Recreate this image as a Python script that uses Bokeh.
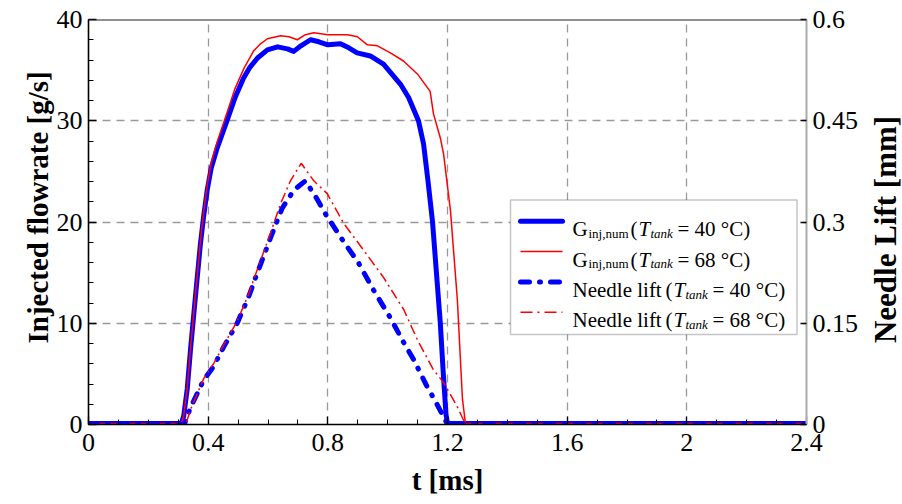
import math
from bokeh.plotting import figure
from bokeh.models import Range1d, LinearAxis, FixedTicker, Label, BoxAnnotation, Arrow, Span, Title
from bokeh.embed import file_html
from bokeh.resources import INLINE

# ---------------- data ----------------
# injected flowrate, T_tank = 40 C  [g/s]
t_g40 = [0.0, 0.31, 0.318, 0.33, 0.341, 0.357, 0.374, 0.385, 0.397, 0.41, 0.43, 0.463, 0.49,
         0.518, 0.54, 0.565, 0.598, 0.632, 0.665, 0.686, 0.71, 0.742, 0.77, 0.8, 0.842, 0.87,
         0.898, 0.942, 0.986, 1.043, 1.07, 1.103, 1.12, 1.135, 1.15, 1.163, 1.176, 1.186,
         1.195, 1.2, 2.4]
g40 = [0.1, 0.1, 0.8, 3.5, 7.4, 12.5, 17.8, 20.6, 23.2, 25.3, 27.3, 30.0, 32.3,
       34.2, 35.3, 36.2, 37.0, 37.3, 37.1, 36.85, 37.4, 38.0, 37.8, 37.5, 37.6, 37.2,
       36.7, 36.4, 35.6, 33.6, 32.3, 30.0, 27.7, 24.0, 20.0, 15.0, 10.0, 5.0,
       1.0, 0.1, 0.1]

# injected flowrate, T_tank = 68 C  [g/s]
t_g68 = [0.0, 0.31, 0.318, 0.33, 0.341, 0.357, 0.374, 0.385, 0.397, 0.41, 0.43, 0.463, 0.49,
         0.52, 0.552, 0.575, 0.598, 0.642, 0.67, 0.698, 0.725, 0.753, 0.8, 0.866, 0.899,
         0.932, 0.966, 1.009, 1.053, 1.1, 1.142, 1.153, 1.176, 1.187, 1.21, 1.233, 1.25,
         1.26, 2.4]
g68 = [0.1, 0.1, 0.8, 3.6, 7.5, 12.7, 18.1, 21.0, 23.7, 25.8, 27.9, 30.8, 33.2,
       35.2, 36.9, 37.6, 38.1, 38.4, 38.3, 38.0, 38.5, 38.7, 38.5, 38.5, 38.3,
       37.5, 37.4, 36.7, 35.9, 34.6, 32.9, 30.7, 28.3, 26.7, 21.1, 12.3, 2.5,
       0.1, 0.1]

# needle lift, T_tank = 40 C  [mm]
t_l40 = [0.0, 0.32, 0.341, 0.385, 0.418, 0.452, 0.497, 0.535, 0.558, 0.608, 0.647, 0.686,
         0.725, 0.764, 0.792, 0.842, 0.903, 0.953, 1.009, 1.054, 1.087, 1.132, 1.16, 1.2, 2.4]
l40 = [0.0, 0.0, 0.025, 0.066, 0.086, 0.115, 0.15, 0.189, 0.217, 0.276, 0.32, 0.347,
       0.361, 0.334, 0.312, 0.278, 0.239, 0.199, 0.158, 0.121, 0.096, 0.056, 0.034, 0.0, 0.0]

# needle lift, T_tank = 68 C  [mm]
t_l68 = [0.0, 0.325, 0.341, 0.385, 0.418, 0.452, 0.497, 0.535, 0.558, 0.608, 0.642, 0.675,
         0.711, 0.753, 0.798, 0.853, 0.92, 0.986, 1.054, 1.1, 1.153, 1.187, 1.232, 1.253, 1.265, 2.4]
l68 = [0.0, 0.0, 0.022, 0.068, 0.09, 0.118, 0.153, 0.193, 0.222, 0.283, 0.327, 0.361,
       0.387, 0.361, 0.342, 0.298, 0.258, 0.218, 0.17, 0.125, 0.081, 0.062, 0.027, 0.007, 0.0, 0.0]

x_ticks = [0, 0.4, 0.8, 1.2, 1.6, 2.0, 2.4]
x_tick_labels = ["0", "0.4", "0.8", "1.2", "1.6", "2", "2.4"]
y_ticks = [0, 10, 20, 30, 40]
y_tick_labels = ["0", "10", "20", "30", "40"]
y2_ticks = [0, 0.15, 0.3, 0.45, 0.6]
y2_tick_labels = ["0", "0.15", "0.3", "0.45", "0.6"]

x_title = "t [ms]"
y_title = "Injected flowrate [g/s]"
y2_title = "Needle Lift [mm]"

legend_main = ["G", "G", "Needle lift", "Needle lift"]
legend_sub = ["inj,num", "inj,num", "", ""]
legend_temp = ["= 40 °C)", "= 68 °C)", "= 40 °C)", "= 68 °C)"]

# ---------------- styling ----------------
FONT = "Liberation Serif"
W, H = 902, 504
FL, FR, FT, FB = 88, 806, 19, 424
BLUE = "#0000ff"
RED = "#ff0000"

p = figure(width=W, height=H, x_range=Range1d(0, 2.4), y_range=Range1d(0, 40),
           output_backend="svg", toolbar_location=None,
           min_border_left=FL, min_border_right=W - FR,
           min_border_top=FT, min_border_bottom=H - FB)
p.extra_y_ranges = {"lift": Range1d(0, 0.6)}
p.outline_line_color = None
p.background_fill_color = "white"
p.border_fill_color = "white"

# grid
p.xgrid.ticker = FixedTicker(ticks=x_ticks)
p.ygrid.ticker = FixedTicker(ticks=y_ticks)
for g in (p.xgrid[0], p.ygrid[0]):
    g.grid_line_color = "#9a9a9a"
    g.grid_line_dash = "8 6"
    g.grid_line_width = 1.3

# bottom axis
xa = p.xaxis[0]
xa.ticker = FixedTicker(ticks=x_ticks, minor_ticks=[round(0.1 * i, 1) for i in range(25)])
xa.major_label_overrides = dict(zip(x_ticks, x_tick_labels))
xa.axis_label = x_title

# left axis
ya = p.yaxis[0]
ya.ticker = FixedTicker(ticks=y_ticks, minor_ticks=list(range(0, 41, 2)))
ya.major_label_overrides = dict(zip(y_ticks, y_tick_labels))

# right axis
ra = LinearAxis(y_range_name="lift", ticker=FixedTicker(ticks=y2_ticks))
ra.major_label_overrides = dict(zip(y2_ticks, y2_tick_labels))
p.add_layout(ra, "right")

for ax in (xa, ya, ra):
    ax.axis_line_color = "black"
    ax.axis_line_width = 1.6
    ax.major_tick_line_color = "black"
    ax.major_tick_line_width = 1.3
    ax.minor_tick_line_color = "black"
    ax.minor_tick_line_width = 1.0
    ax.major_tick_in = 8
    ax.major_tick_out = 0
    ax.minor_tick_in = 5
    ax.minor_tick_out = 0
    ax.major_label_text_font = FONT
    ax.major_label_text_font_size = "26px"
    ax.major_label_text_color = "black"
    ax.major_label_standoff = 6
    ax.axis_label_text_font = FONT
    ax.axis_label_text_font_style = "bold"
    ax.axis_label_text_font_size = "29px"
    ax.axis_label_text_color = "black"
    ax.axis_label_standoff = 8
ra.axis_line_color = "#ababab"
ra.axis_line_width = 2.0
ra.minor_tick_line_color = None
ra.major_tick_in = 6
xa.major_label_standoff = 9
xa.axis_label_standoff = 10

# left title, offset upward like the original
lt = Title(text=y_title, align="left", offset=81, text_font=FONT,
           text_font_style="bold", text_font_size="29px", text_color="black",
           standoff=0)
p.add_layout(lt, "left")

# right title: rotated label living in the right side panel (reads bottom-to-top)
p.add_layout(Label(x=24, y=FB - 229, x_units="screen", y_units="screen",
                   text=y2_title, angle=math.pi / 2, text_align="center",
                   text_baseline="middle", text_font=FONT, text_font_style="bold",
                   text_font_size="31px", text_color="black"), "right")


def X(px):
    return (px - FL) * 2.4 / (FR - FL)


def Y(py):
    return (FB - py) * 40 / (FB - FT)


# top frame edge
p.add_layout(Span(location=40, dimension="width", line_color="#222222", line_width=1.8))

# ---------------- curves ----------------
p.line(t_g40, g40, line_color=BLUE, line_width=5, line_join="round")
p.line(t_g68, g68, line_color=RED, line_width=1.5)
p.line(t_l40, l40, y_range_name="lift", line_color=BLUE, line_width=5,
       line_dash="9 10 1 10", line_cap="round")
p.line(t_l68, l68, y_range_name="lift", line_color=RED, line_width=1.5,
       line_dash="10 4 2 4")

# ---------------- legend (annotations placed in pixel space) ----------------
p.add_layout(BoxAnnotation(left=X(510), right=X(796.5), top=Y(199.5), bottom=Y(334),
                           fill_color="white", fill_alpha=1.0,
                           line_color="#404040", line_width=1.5, level="overlay"))

sample_styles = [
    dict(line_color=BLUE, line_width=5, line_cap="round"),
    dict(line_color=RED, line_width=1.5),
    dict(line_color=BLUE, line_width=5, line_cap="round", line_dash="9 10 1 10"),
    dict(line_color=RED, line_width=1.5, line_dash="12 5 2 5"),
]
row_c = [220.7, 251.0, 281.5, 311.7]
for i in range(4):
    rc = row_c[i]
    bl = rc + 8
    p.add_layout(Arrow(end=None, x_start=X(520), y_start=Y(rc), x_end=X(562), y_end=Y(rc),
                       level="overlay", **sample_styles[i]))
    base = dict(text_font=FONT, text_color="black", text_baseline="alphabetic",
                level="overlay")
    p.add_layout(Label(x=X(572), y=Y(bl), text=legend_main[i], text_font_size="21px", **base))
    if legend_sub[i]:
        p.add_layout(Label(x=X(588), y=Y(bl + 4), text=legend_sub[i], text_font_size="13px", **base))
        xo = 630
    else:
        xo = 665
    p.add_layout(Label(x=X(xo), y=Y(bl), text="(", text_font_size="21px", **base))
    p.add_layout(Label(x=X(xo + 8), y=Y(bl), text="T", text_font_size="21px",
                       text_font_style="italic", **base))
    p.add_layout(Label(x=X(xo + 20), y=Y(bl + 4), text="tank", text_font_size="13px",
                       text_font_style="italic", **base))
    p.add_layout(Label(x=X(xo + 47), y=Y(bl), text=legend_temp[i], text_font_size="21px", **base))

open("out.html", "w").write(file_html(p, INLINE))
